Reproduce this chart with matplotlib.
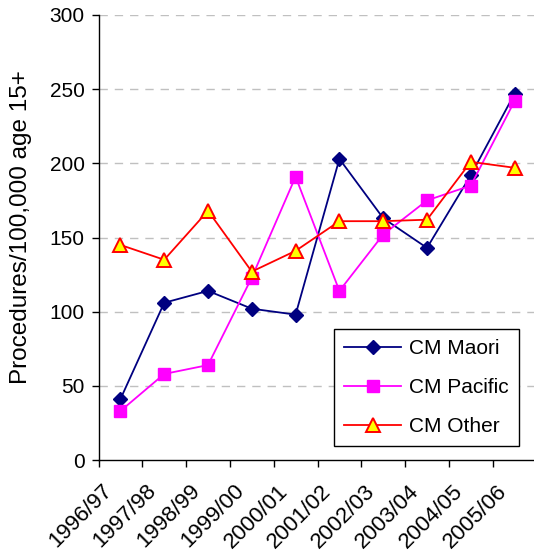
import matplotlib
matplotlib.use("Agg")
import matplotlib.pyplot as plt
import matplotlib.transforms as mtrans
import numpy as np

plt.rcParams["font.family"] = ["Liberation Sans", "DejaVu Sans"]

years = ["1996/97", "1997/98", "1998/99", "1999/00", "2000/01",
         "2001/02", "2002/03", "2003/04", "2004/05", "2005/06"]
maori = [41, 106, 114, 102, 98, 203, 163, 143, 192, 247]
pacific = [33, 58, 64, 123, 191, 114, 152, 175, 185, 242]
other = [145, 135, 168, 127, 141, 161, 161, 162, 201, 197]

W, H = 534, 558
fig = plt.figure(figsize=(W / 100, H / 100), dpi=100)
# plot area runs slightly past the right edge of the image
ax = fig.add_axes([98.5 / W, 1 - 460 / H, 438 / W, 445 / H])

x = np.arange(len(years))
ax.plot(x, maori, color="#000080", lw=1.3, marker="D", ms=7,
        mfc="#000080", mec="#000080", label="CM Maori", zorder=3)
ax.plot(x, pacific, color="#FF00FF", lw=1.3, marker="s", ms=9,
        mfc="#FF00FF", mec="#FF00FF", label="CM Pacific", zorder=3)
ax.plot(x, other, color="#FF0000", lw=1.3, marker="^", ms=10,
        mfc="#FFFF00", mec="#FF0000", mew=1.4, label="CM Other", zorder=4)

ax.set_xlim(-0.5, len(years) - 0.5)
ax.set_ylim(0, 300)
ax.set_yticks(np.arange(0, 301, 50))
ax.set_xticks(x)
ax.set_xticks(np.arange(-0.5, len(years) - 0.4, 1.0), minor=True)
ax.set_xticklabels(years, rotation=45, ha="right", va="center",
                   rotation_mode="anchor", fontsize=16)
ax.tick_params(axis="x", which="major", length=0, pad=20)
ax.tick_params(axis="x", which="minor", length=5, width=1, direction="out")
ax.tick_params(axis="y", length=5, width=1, direction="out", pad=5, labelsize=15)

# shift category labels a little to the left
off = mtrans.ScaledTranslation(-11 / 100, 0, fig.dpi_scale_trans)
for lab in ax.get_xticklabels():
    lab.set_transform(lab.get_transform() + off)

for y in range(50, 301, 50):
    ax.axhline(y, color="#C0C0C0", lw=1.0, ls=(0, (6, 5)), zorder=1)

ax.spines["top"].set_visible(False)
ax.spines["right"].set_visible(False)
ax.spines["left"].set_linewidth(1.0)
ax.spines["bottom"].set_linewidth(1.0)

ax.set_ylabel("Procedures/100,000 age 15+", fontsize=17.5)
ax.yaxis.set_label_coords(-0.152, 0.524)

leg = ax.legend(loc="upper left", bbox_to_anchor=(334 / W, 1 - 329 / H),
                bbox_transform=fig.transFigure, borderaxespad=0,
                fontsize=15, frameon=True, fancybox=False, framealpha=1,
                edgecolor="#000000", handlelength=2.7, labelspacing=0.95,
                borderpad=0.5, handletextpad=0.4)
leg.get_frame().set_linewidth(1.0)

fig.savefig("out.png", dpi=100)
